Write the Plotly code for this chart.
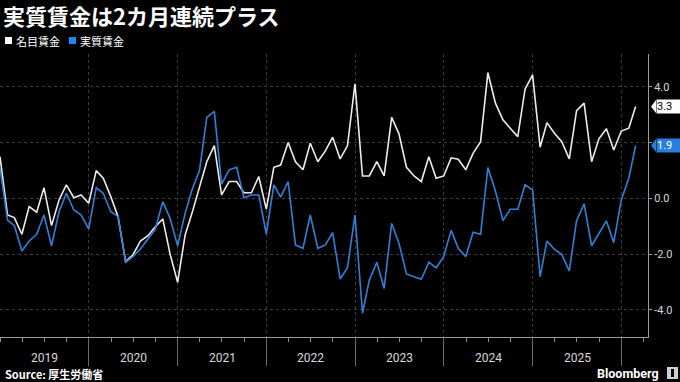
import pandas as pd
import plotly.graph_objects as go

# ---- data (y/y %, monthly, Dec 2018 .. Feb 2026) ----
start_month = "2018-12-31"
nominal_wages = [
    1.49, -0.60, -0.69, -1.29, -0.30, -0.50, 0.38, -0.98, -0.06, 0.48, 0.02, 0.12,
    -0.18, 0.99, 0.72, 0.06, -0.66, -2.27, -2.03, -1.53, -1.34, -1.02, -0.74, -2.00,
    -3.01, -1.31, -0.54, 0.36, 1.31, 1.89, 0.12, 0.60, 0.60, 0.20, 0.20, 0.78,
    -0.39, 1.11, 1.19, 2.00, 1.31, 1.02, 1.97, 1.31, 1.70, 2.19, 1.41, 1.88,
    4.10, 0.80, 0.80, 1.31, 0.80, 2.90, 2.31, 1.11, 0.80, 0.60, 1.49, 0.72,
    0.80, 1.45, 1.40, 1.02, 1.61, 2.03, 4.50, 3.41, 2.81, 2.51, 2.21, 3.91,
    4.42, 1.83, 2.71, 2.33, 2.03, 1.41, 3.14, 3.41, 1.31, 2.13, 2.49, 1.73,
    2.41, 2.51, 3.29,
]
real_wages = [
    1.08, -0.78, -0.98, -1.89, -1.53, -1.29, -0.60, -1.70, -0.48, 0.18, -0.42, -0.60,
    -1.10, 0.38, 0.18, -0.48, -0.66, -2.29, -2.09, -1.82, -1.46, -1.11, -0.12, -0.72,
    -1.70, -0.54, 0.30, 0.99, 2.90, 3.11, 0.51, 1.02, 1.11, 0.02, 0.12, 0.12,
    -1.28, 0.48, 0.04, 0.60, -1.67, -1.79, -0.60, -1.79, -1.67, -1.23, -2.89, -2.49,
    -0.60, -4.12, -2.93, -2.29, -3.23, -0.90, -1.61, -2.71, -2.81, -2.90, -2.29, -2.49,
    -2.09, -1.15, -1.79, -2.09, -1.22, -1.29, 1.10, 0.26, -0.80, -0.39, -0.39, 0.48,
    0.30, -2.81, -1.53, -1.83, -2.01, -2.60, -0.80, -0.20, -1.70, -1.28, -0.81, -1.59,
    -0.06, 0.72, 1.89,
]
series_names = ["名目賃金", "実質賃金"]
year_labels = [2019, 2020, 2021, 2022, 2023, 2024, 2025]
year_dividers = [2020, 2021, 2022, 2023, 2024, 2025, 2026]
y_ticks = [-4, -2, 0, 2, 4]
title_text = "実質賃金は2カ月連続プラス"
source_text = "Source: 厚生労働省"

dates = pd.date_range(start_month, periods=len(nominal_wages), freq="ME")

WHITE = "#ececec"
BLUE = "#2f80d8"
CJK = "Noto Sans CJK JP"
NUM = "Roboto, Liberation Sans, sans-serif"

fig = go.Figure()
fig.add_trace(go.Scatter(x=dates, y=nominal_wages, mode="lines", name=series_names[0],
                         line=dict(color=WHITE, width=1.6), showlegend=False))
fig.add_trace(go.Scatter(x=dates, y=real_wages, mode="lines", name=series_names[1],
                         line=dict(color=BLUE, width=1.6), showlegend=False))

# plot geometry helpers (pixels -> paper)
W_PLOT = 648.0
H_PLOT = 283.0
Y_SPAN = 5.17 + 4.97
def px_x(p):
    return p / W_PLOT
def px_y(p):  # p = pixel y from top of page
    return (337.0 - p) / H_PLOT

annotations = []
shapes = []

# title
annotations.append(dict(xref="paper", yref="paper", x=px_x(1), y=px_y(15),
                        xanchor="left", yanchor="middle", showarrow=False,
                        text=f"<b>{title_text}</b>",
                        font=dict(family=CJK, size=22, color="#ffffff")))

# legend (manual squares + labels)
for sx, tx, col, name in [(5, 14, "#ffffff", series_names[0]), (69, 78, "#1e88f0", series_names[1])]:
    shapes.append(dict(type="rect", xref="paper", yref="paper",
                       x0=px_x(sx), x1=px_x(sx + 7), y0=px_y(44), y1=px_y(37),
                       fillcolor=col, line=dict(width=0)))
    annotations.append(dict(xref="paper", yref="paper", x=px_x(tx), y=px_y(40.5),
                            xanchor="left", yanchor="middle", showarrow=False,
                            text=name, font=dict(family=CJK, size=11, color="#ffffff")))

# year labels centred in each year
for yr in year_labels:
    annotations.append(dict(xref="x", yref="paper", x=f"{yr}-07-02", y=px_y(358),
                            xanchor="center", yanchor="middle", showarrow=False,
                            text=str(yr), font=dict(family=NUM, size=12, color="#d8d8d8")))

# last value tags
tag_half = 6.5 / (H_PLOT / Y_SPAN)
last_values = []
for vals, bg, fg in [(nominal_wages, "#ffffff", "#000000"), (real_wages, "#2a7ee0", "#ffffff")]:
    v = vals[-1]
    last_values.append(v)
    shapes.append(dict(type="path", xref="paper", yref="y",
                       path=f"M {px_x(651)},{v} L {px_x(656)},{v + tag_half} L {px_x(656)},{v - tag_half} Z",
                       fillcolor=bg, line=dict(width=0)))
    annotations.append(dict(xref="paper", yref="y", x=px_x(655.5), y=v,
                            xanchor="left", yanchor="middle", showarrow=False,
                            text=f"{v:.1f}", bgcolor=bg, width=26, height=13, align="left",
                            borderpad=0, font=dict(family=NUM, size=11, color=fg)))

# tick labels hidden behind a value tag are not shown (as in the original)
tick_text = []
for t in y_ticks:
    covered = any(abs(t - v) < 2 * tag_half for v in last_values)
    tick_text.append("" if covered else f"{t:.1f}")

# source + branding
annotations.append(dict(xref="paper", yref="paper", x=px_x(3), y=px_y(374),
                        xanchor="left", yanchor="middle", showarrow=False,
                        text=f"<b>{source_text}</b>", font=dict(family=CJK, size=11, color="#ffffff")))
annotations.append(dict(xref="paper", yref="paper", x=px_x(661), y=px_y(373),
                        xanchor="right", yanchor="middle", showarrow=False,
                        text="<b>Bloomberg</b>", font=dict(family=NUM, size=12.5, color="#ffffff")))
shapes.append(dict(type="rect", xref="paper", yref="paper",
                   x0=px_x(667), x1=px_x(678), y0=px_y(379), y1=px_y(367),
                   fillcolor="#cfcfcf", line=dict(width=0)))
shapes.append(dict(type="rect", xref="paper", yref="paper",
                   x0=px_x(671), x1=px_x(674), y0=px_y(377), y1=px_y(369),
                   fillcolor="#000000", line=dict(width=0)))

quarters = pd.date_range("2019-01-01", "2026-04-01", freq="QS")

fig.update_layout(
    width=680, height=382,
    paper_bgcolor="#000000", plot_bgcolor="#000000",
    margin=dict(l=0, r=32, t=54, b=45),
    annotations=annotations,
    shapes=shapes,
    xaxis=dict(
        type="date",
        range=["2018-12-31", "2026-04-20"],
        tickmode="array",
        tickvals=[f"{y}-01-01" for y in year_dividers],
        showticklabels=False,
        ticks="outside", ticklen=28, tickwidth=1, tickcolor="#6a6a6a",
        showgrid=True, gridcolor="#3c3c3c", griddash="dot", gridwidth=1,
        showline=True, linecolor="#9a9a9a", linewidth=1,
        zeroline=False,
        minor=dict(tickmode="array", tickvals=list(quarters), ticks="outside",
                   ticklen=4, tickcolor="#8a8a8a", showgrid=False),
    ),
    yaxis=dict(
        side="right",
        range=[-4.97, 5.17],
        tickmode="array",
        tickvals=y_ticks,
        ticktext=tick_text,
        ticks="outside", ticklen=3, tickcolor="#9a9a9a",
        tickfont=dict(family=NUM, size=11, color="#d8d8d8"),
        showgrid=True, gridcolor="#3c3c3c", griddash="dot", gridwidth=1,
        showline=True, linecolor="#9a9a9a", linewidth=1,
        zeroline=False,
    ),
)

fig.write_html(
    "out.html",
    config={"displayModeBar": False},
    post_script="document.body.style.margin='0';document.body.style.padding='0';"
                "document.body.style.background='#000';document.body.style.overflow='hidden';",
)
